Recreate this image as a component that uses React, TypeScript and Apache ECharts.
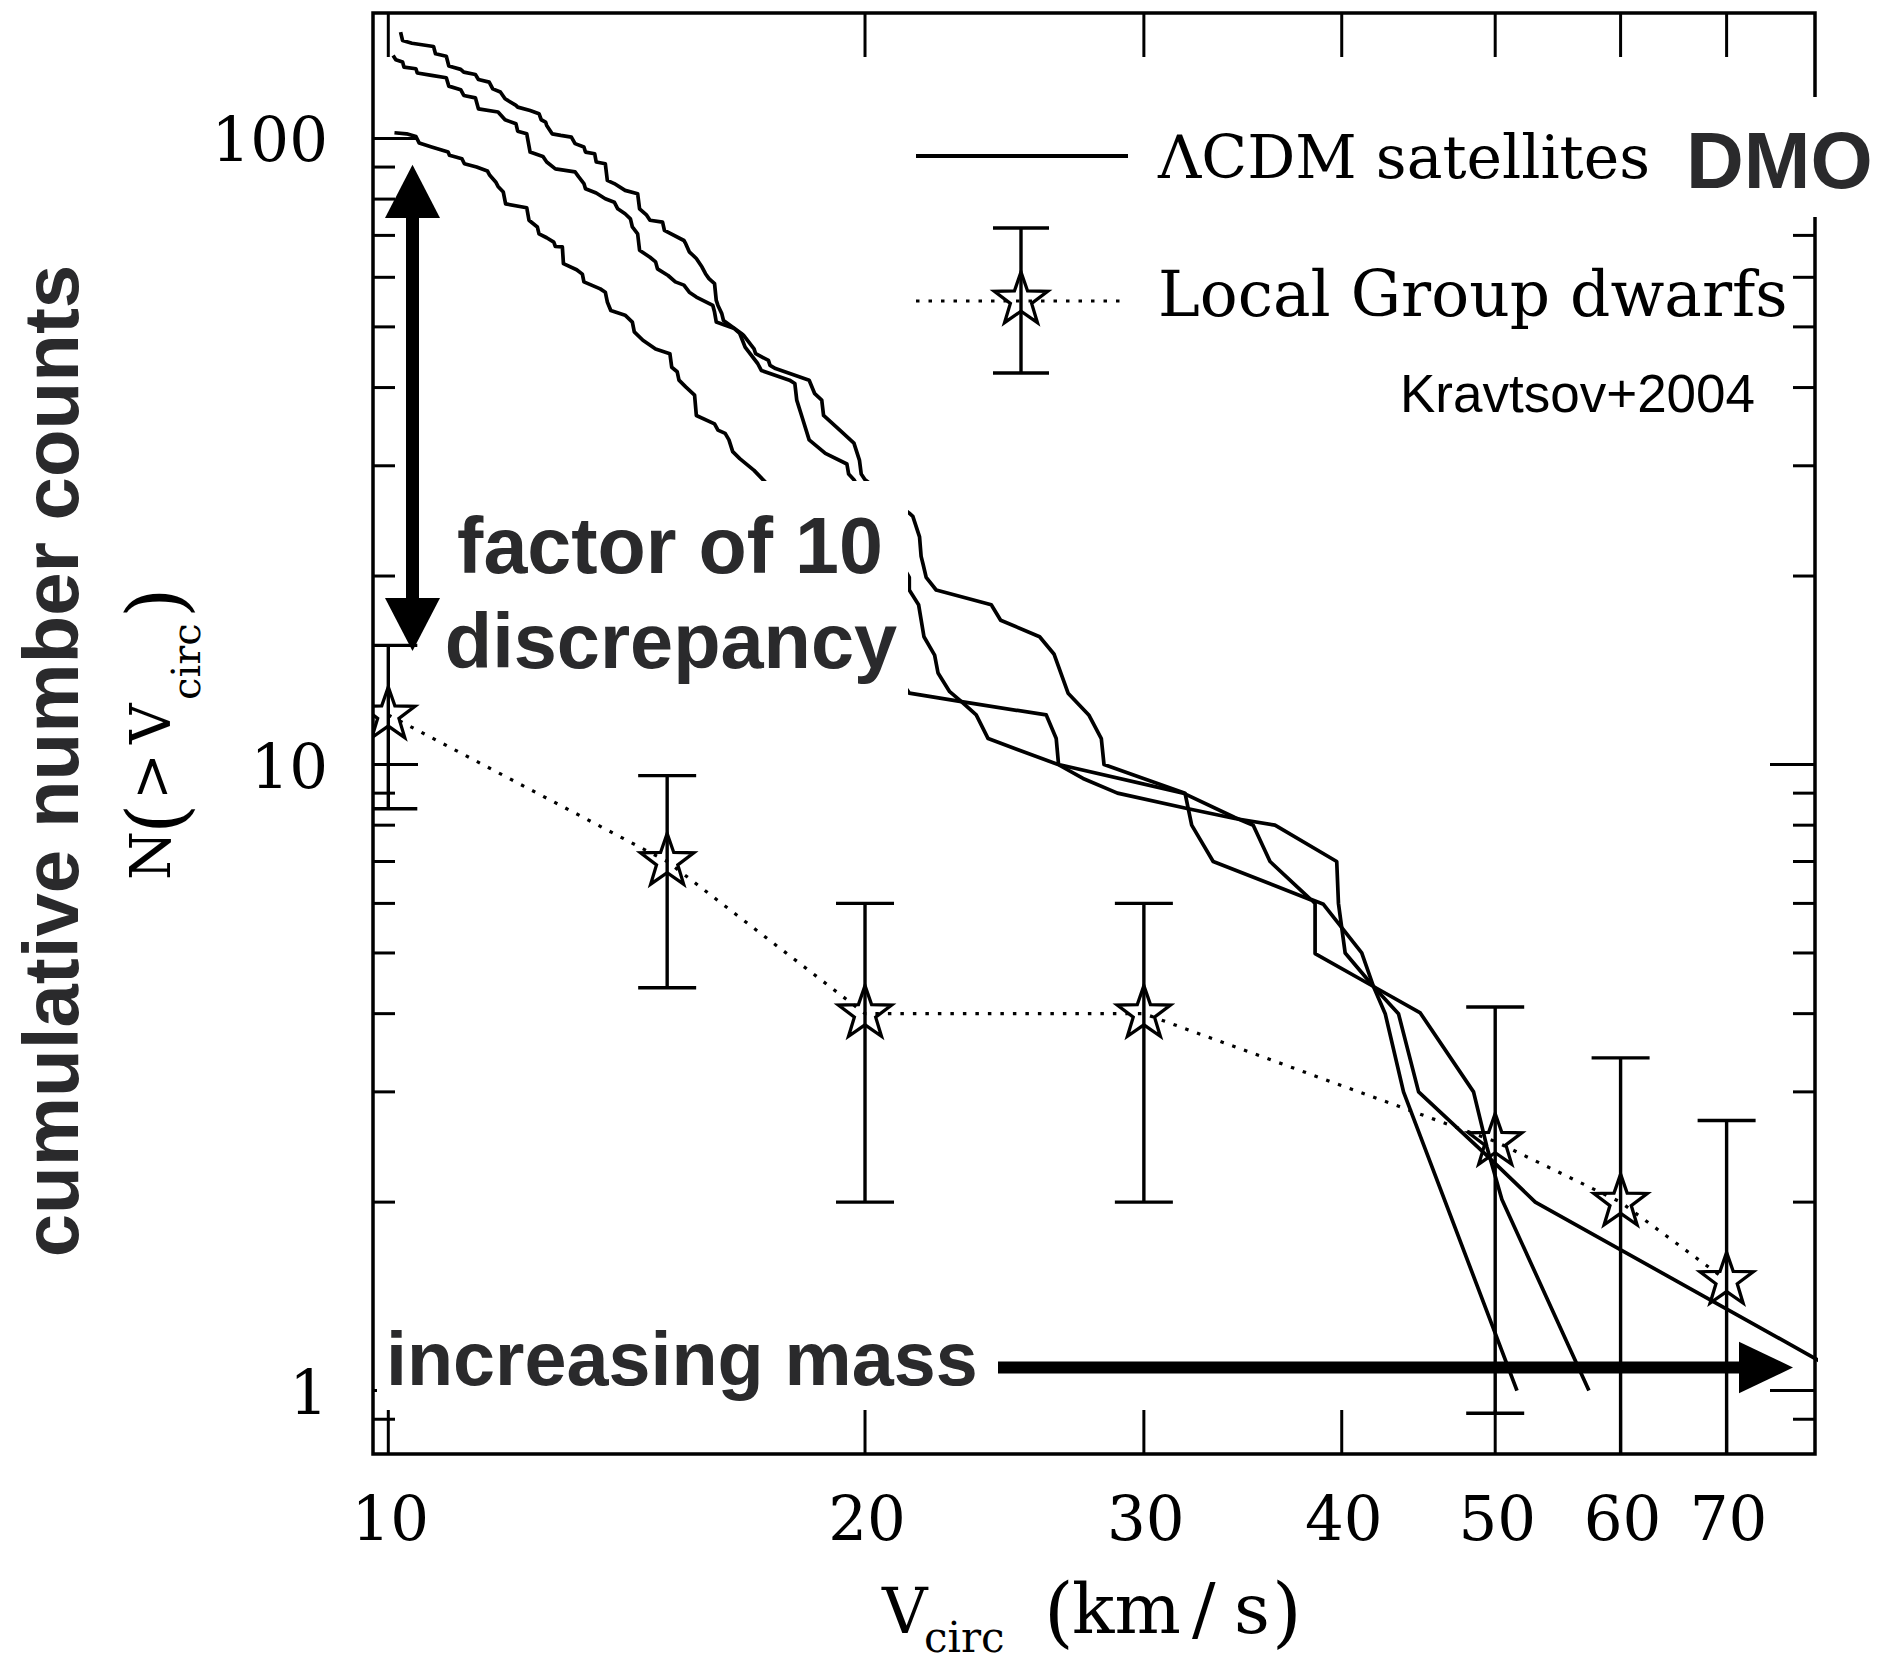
import React, { useEffect, useRef } from "react";
import * as echarts from "echarts";

// ---- axis ranges (log-log) ----
const X_MIN = 9.78;
const X_MAX = 79.6;
const Y_MIN = 0.792;
const Y_MAX = 158.6;

// ---- tick values and labels ----
const xTickValues = [10, 20, 30, 40, 50, 60, 70];
const xTickLabels = ["10", "20", "30", "40", "50", "60", "70"];
const yMajorTicks = [1, 10, 100];
const yTickLabels = ["1", "10", "100"];
const yMinorTicks = [0.9, 2, 3, 4, 5, 6, 7, 8, 9, 20, 30, 40, 50, 60, 70, 80, 90];

// ---- Local Group dwarfs: cumulative counts with error bars ----
const dwarfV = [10, 15, 20, 30, 50, 60, 70];
const dwarfN = [12, 7, 4, 4, 2.5, 2, 1.5];
const dwarfUpper = [15.5, 9.6, 6, 6, 4.1, 3.4, 2.7];
const dwarfLower = [8.5, 4.4, 2, 2, 0.92, 0.6, 0.3];

// ---- LCDM satellite cumulative counts, three host haloes: [Vcirc, N(>Vcirc)] ----
const satelliteA = [
  [10.18, 147.8], [10.21, 143.3], [10.35, 141.9], [10.68, 140.2], [10.71, 136.5], [10.88, 135.3],
  [10.92, 130.5], [11.11, 128.9], [11.16, 127.6], [11.35, 126.5], [11.4, 124.2], [11.58, 123.0],
  [11.64, 120.0], [11.77, 118.6], [11.85, 115.7], [12.04, 112.9], [12.07, 112.2], [12.29, 110.8],
  [12.45, 109.5], [12.49, 107.1], [12.57, 106.2], [12.59, 104.9], [12.69, 101.7], [12.85, 101.1],
  [13.05, 100.5], [13.12, 98.1], [13.29, 96.9], [13.32, 95.1], [13.5, 94.5], [13.53, 91.7],
  [13.71, 91.1], [13.75, 85.7], [13.89, 84.7], [14.11, 82.6], [14.37, 81.6], [14.41, 77.2],
  [14.56, 75.4], [14.63, 74.0], [14.9, 73.5], [14.94, 71.3], [15.37, 68.7], [15.41, 67.9],
  [15.49, 65.9], [15.65, 64.3], [15.78, 62.3], [15.86, 60.8], [15.94, 59.7], [16.07, 58.6],
  [16.11, 55.1], [16.15, 54.1], [16.24, 52.5], [16.28, 51.2], [16.71, 48.8], [16.76, 48.5],
  [17.02, 46.1], [17.06, 45.3], [17.38, 44.2], [17.42, 43.4], [17.56, 42.9], [18.44, 41.1],
  [18.59, 39.1], [18.78, 38.2], [18.83, 36.1], [19.28, 34.2], [19.68, 32.6], [19.84, 30.6],
  [19.89, 29.1], [20.0, 28.5],
  [21.33, 25.2], [21.44, 24.9], [21.65, 23.1], [21.7, 21.5], [21.76, 20.9], [21.86, 19.9],
  [22.18, 19.0], [24.03, 18.0], [24.36, 17.0], [25.78, 16.0], [26.33, 15.0], [26.87, 13.0],
  [27.69, 12.0], [28.2, 11.0], [28.31, 10.0], [31.85, 9.0], [32.16, 8.0], [33.18, 7.0],
  [38.3, 6.07], [38.48, 6.0], [38.48, 4.99], [41.89, 4.42], [44.84, 4.01], [48.45, 3.0],
  [49.4, 2.45], [50.49, 2.02], [57.3, 1.0],
];

const satelliteB = [
  [10.07, 135.7], [10.11, 133.6], [10.21, 132.4], [10.23, 130.0], [10.41, 129.2], [10.43, 127.2],
  [10.65, 126.1], [10.88, 125.0], [10.92, 121.2], [11.11, 119.6], [11.16, 117.1], [11.35, 116.1],
  [11.4, 111.5], [11.73, 110.2], [11.85, 107.1], [12.04, 105.5], [12.07, 102.7], [12.23, 101.7],
  [12.29, 95.1], [12.52, 93.6], [12.59, 91.7], [12.75, 89.4], [13.12, 88.4], [13.19, 86.8],
  [13.29, 84.7], [13.32, 83.1], [13.53, 81.8], [13.71, 80.1], [13.89, 79.1], [13.96, 77.2],
  [14.11, 75.8], [14.22, 74.4], [14.26, 72.2], [14.37, 70.4], [14.41, 66.3], [14.63, 64.6],
  [14.75, 63.5], [14.79, 61.9], [15.02, 60.4], [15.18, 59.0], [15.37, 58.3], [15.49, 56.8],
  [15.65, 55.8], [16.03, 54.1], [16.07, 52.8], [16.11, 50.9], [16.54, 49.7], [16.67, 48.8],
  [16.8, 46.4], [17.11, 43.7], [17.2, 42.6], [17.92, 41.1], [18.06, 40.6], [18.11, 38.2],
  [18.25, 35.9], [18.44, 33.0], [18.88, 31.4], [19.48, 30.2], [19.53, 29.1], [19.68, 28.5],
  [21.33, 19.9], [21.33, 19.0], [21.62, 18.0], [21.79, 16.0], [22.13, 14.95], [22.24, 14.0],
  [22.62, 13.07], [23.01, 12.6], [23.51, 12.0], [23.92, 11.0], [26.48, 10.0], [27.46, 9.5],
  [28.87, 9.0], [32.0, 8.5], [34.24, 8.2], [36.3, 8.0], [39.71, 7.0], [39.81, 6.0],
  [40.2, 5.0], [41.89, 4.42], [42.61, 4.0], [43.76, 3.0], [51.61, 1.0],
];

const satelliteC = [
  [10.09, 102.1], [10.27, 101.7], [10.41, 100.7], [10.46, 98.3], [10.65, 96.9], [10.91, 95.1],
  [10.93, 94.0], [11.13, 92.8], [11.17, 91.1], [11.37, 90.0], [11.55, 88.7], [11.59, 87.3],
  [11.69, 85.2], [11.73, 83.8], [11.82, 82.1], [11.86, 78.6], [12.23, 77.5], [12.27, 74.0],
  [12.42, 72.2], [12.45, 70.4], [12.59, 69.4], [12.72, 68.3], [12.75, 67.2], [12.88, 67.1],
  [12.9, 63.1], [13.15, 61.7], [13.26, 60.7], [13.29, 59.0], [13.61, 57.5], [13.71, 56.8],
  [13.75, 54.8], [13.82, 53.1], [14.11, 52.2], [14.26, 50.9], [14.3, 49.1], [14.48, 47.6],
  [14.75, 46.1], [15.06, 45.3], [15.1, 43.1], [15.22, 42.4], [15.26, 41.1], [15.41, 40.1],
  [15.61, 38.9], [15.65, 36.1], [16.07, 35.0], [16.15, 34.2], [16.32, 33.8], [16.41, 33.0],
  [16.5, 31.6], [16.67, 30.8], [17.02, 29.5], [17.29, 28.3],
  [21.33, 13.0], [23.01, 12.6], [26.03, 12.0], [26.41, 11.0], [26.5, 10.0], [31.77, 9.0],
  [34.24, 8.23], [35.17, 8.0], [36.04, 7.0], [38.2, 6.1], [38.95, 5.98], [41.18, 5.0],
  [41.89, 4.42], [43.44, 4.0], [44.73, 3.0], [49.52, 2.36], [53.0, 2.0], [79.89, 1.12],
  [86.0, 1.0],
];

// ---- styling constants ----
const SERIF = "'DejaVu Serif', serif";
const SANS = "'Liberation Sans', Arial, sans-serif";
const DARK = "#2a2a2c";
const INK = "#000";
const STAR_R = 28;
const STAR_INNER = 0.4;
const CAP_HALF = 29;
const MAJOR_LEN = 45;
const MINOR_LEN = 22;
const XTICK_LEN = 44;
const TICK_FONT = 61;
const CURVE_W = 3.7;
const BAR_W = 3.4;
const TICK_W = 3;

function starPoints(cx: number, cy: number, R: number, ratio: number) {
  const pts: number[][] = [];
  for (let k = 0; k < 10; k++) {
    const r = k % 2 === 0 ? R : R * ratio;
    const a = -Math.PI / 2 + (k * Math.PI) / 5;
    pts.push([cx + r * Math.cos(a), cy + r * Math.sin(a)]);
  }
  return pts;
}

function txt(
  x: number,
  y: number,
  text: string,
  size: number,
  family: string,
  opts: any = {}
) {
  const align = opts.align || "left";
  return {
    type: "text",
    x,
    y,
    z: opts.z ?? 101,
    silent: true,
    style: {
      text,
      fontSize: size,
      fontFamily: family,
      fontWeight: opts.weight || "normal",
      fill: opts.fill || INK,
      align,
      textAlign: align,
      verticalAlign: "middle",
      textVerticalAlign: "middle",
    },
  };
}

function buildOption() {
  const lineSeries = [satelliteA, satelliteB, satelliteC].map((d, i) => ({
    name: "LCDM satellites " + (i + 1),
    type: "line",
    data: d,
    showSymbol: false,
    symbol: "none",
    clip: true,
    z: 3,
    lineStyle: { color: INK, width: CURVE_W, join: "round" },
  }));

  const legendStar = starPoints(1021, 300, STAR_R, STAR_INNER);

  return {
    animation: false,
    backgroundColor: "#fff",
    grid: {
      left: 373,
      top: 13,
      width: 1442,
      height: 1441,
      show: true,
      borderColor: INK,
      borderWidth: 3.5,
      backgroundColor: "transparent",
    },
    xAxis: {
      type: "log",
      logBase: 10,
      min: X_MIN,
      max: X_MAX,
      axisLine: { show: false },
      axisTick: { show: false },
      axisLabel: { show: false },
      splitLine: { show: false },
    },
    yAxis: {
      type: "log",
      logBase: 10,
      min: Y_MIN,
      max: Y_MAX,
      axisLine: { show: false },
      axisTick: { show: false },
      axisLabel: { show: false },
      splitLine: { show: false },
    },
    series: [
      ...lineSeries,
      // dotted connector of the dwarf counts
      {
        name: "Local Group dwarfs line",
        type: "line",
        data: dwarfV.map((v, i) => [v, dwarfN[i]]),
        symbol: "none",
        showSymbol: false,
        clip: true,
        z: 4,
        lineStyle: { color: INK, width: 3.2, type: [3.5, 9] },
      },
      // error bars and open stars
      {
        name: "Local Group dwarfs",
        type: "custom",
        clip: true,
        z: 5,
        encode: { x: 0, y: 1 },
        data: dwarfV.map((v, i) => [v, dwarfN[i], dwarfUpper[i], dwarfLower[i]]),
        renderItem: (params: any, api: any) => {
          const v = api.value(0);
          const c = api.coord([v, api.value(1)]);
          const top = api.coord([v, api.value(2)]);
          const bot = api.coord([v, api.value(3)]);
          const st = { stroke: INK, lineWidth: BAR_W };
          return {
            type: "group",
            children: [
              { type: "line", shape: { x1: c[0], y1: top[1], x2: c[0], y2: bot[1] }, style: st },
              { type: "line", shape: { x1: c[0] - CAP_HALF, y1: top[1], x2: c[0] + CAP_HALF, y2: top[1] }, style: st },
              { type: "line", shape: { x1: c[0] - CAP_HALF, y1: bot[1], x2: c[0] + CAP_HALF, y2: bot[1] }, style: st },
              {
                type: "polygon",
                shape: { points: starPoints(c[0], c[1], STAR_R, STAR_INNER) },
                style: { fill: "none", stroke: INK, lineWidth: 3.3 },
              },
            ],
          };
        },
      },
      // x ticks (bottom and top) with labels
      {
        name: "xticks",
        type: "custom",
        clip: false,
        silent: true,
        z: 6,
        encode: { x: 0, y: 1 },
        data: xTickValues.map((v, i) => [v, Y_MIN, i]),
        renderItem: (params: any, api: any) => {
          const v = api.value(0);
          const i = api.value(2);
          const b = api.coord([v, Y_MIN]);
          const t = api.coord([v, Y_MAX]);
          const st = { stroke: INK, lineWidth: TICK_W };
          return {
            type: "group",
            children: [
              { type: "line", shape: { x1: b[0], y1: b[1], x2: b[0], y2: b[1] - XTICK_LEN }, style: st },
              { type: "line", shape: { x1: t[0], y1: t[1], x2: t[0], y2: t[1] + XTICK_LEN }, style: st },
              {
                type: "text",
                style: {
                  text: xTickLabels[i],
                  x: b[0] + 2,
                  y: b[1] + 64,
                  fontSize: TICK_FONT,
                  fontFamily: SERIF,
                  fill: INK,
                  align: "center",
                  verticalAlign: "middle",
                },
              },
            ],
          };
        },
      },
      // y major ticks (left and right) with labels
      {
        name: "ymajor",
        type: "custom",
        clip: false,
        silent: true,
        z: 6,
        encode: { x: 0, y: 1 },
        data: yMajorTicks.map((v, i) => [X_MIN, v, i]),
        renderItem: (params: any, api: any) => {
          const v = api.value(1);
          const i = api.value(2);
          const l = api.coord([X_MIN, v]);
          const r = api.coord([X_MAX, v]);
          const st = { stroke: INK, lineWidth: TICK_W };
          return {
            type: "group",
            children: [
              { type: "line", shape: { x1: l[0], y1: l[1], x2: l[0] + MAJOR_LEN, y2: l[1] }, style: st },
              { type: "line", shape: { x1: r[0], y1: r[1], x2: r[0] - MAJOR_LEN, y2: r[1] }, style: st },
              {
                type: "text",
                style: {
                  text: yTickLabels[i],
                  x: l[0] - 45,
                  y: l[1] + 1.5,
                  fontSize: TICK_FONT,
                  fontFamily: SERIF,
                  fill: INK,
                  align: "right",
                  verticalAlign: "middle",
                },
              },
            ],
          };
        },
      },
      // y minor ticks (left and right)
      {
        name: "yminor",
        type: "custom",
        clip: false,
        silent: true,
        z: 6,
        encode: { x: 0, y: 1 },
        data: yMinorTicks.map((v) => [X_MIN, v]),
        renderItem: (params: any, api: any) => {
          const v = api.value(1);
          const l = api.coord([X_MIN, v]);
          const r = api.coord([X_MAX, v]);
          const st = { stroke: INK, lineWidth: TICK_W };
          return {
            type: "group",
            children: [
              { type: "line", shape: { x1: l[0], y1: l[1], x2: l[0] + MINOR_LEN, y2: l[1] }, style: st },
              { type: "line", shape: { x1: r[0], y1: r[1], x2: r[0] - MINOR_LEN, y2: r[1] }, style: st },
            ],
          };
        },
      },
    ],
    graphic: {
      elements: [
        // white panels under the annotations
        { type: "rect", z: 100, silent: true, shape: { x: 440, y: 481, width: 468, height: 214 }, style: { fill: "#fff" } },
        { type: "rect", z: 100, silent: true, shape: { x: 377, y: 1302, width: 619, height: 106 }, style: { fill: "#fff" } },
        { type: "rect", z: 100, silent: true, shape: { x: 1678, y: 97, width: 200, height: 120 }, style: { fill: "#fff" } },

        // double-headed arrow
        { type: "rect", z: 102, silent: true, shape: { x: 406, y: 212, width: 13, height: 392 }, style: { fill: INK } },
        { type: "polygon", z: 102, silent: true, shape: { points: [[412.5, 164.7], [385, 218], [440, 218]] }, style: { fill: INK } },
        { type: "polygon", z: 102, silent: true, shape: { points: [[412.5, 651], [385, 598], [440, 598]] }, style: { fill: INK } },

        // increasing-mass arrow
        { type: "rect", z: 102, silent: true, shape: { x: 998, y: 1361.5, width: 748, height: 12 }, style: { fill: INK } },
        { type: "polygon", z: 102, silent: true, shape: { points: [[1793, 1367.5], [1739, 1341.7], [1739, 1393.3]] }, style: { fill: INK } },

        // annotation texts (drawn above arrows and panels)
        txt(670, 545, "factor of 10", 79, SANS, { weight: "bold", fill: DARK, align: "center", z: 103 }),
        txt(671, 641, "discrepancy", 77.5, SANS, { weight: "bold", fill: DARK, align: "center", z: 103 }),
        txt(386, 1359, "increasing mass", 75.5, SANS, { weight: "bold", fill: DARK, z: 103 }),
        txt(1686, 160.6, "DMO", 80, SANS, { weight: "bold", fill: DARK, z: 103 }),
        txt(1400, 393, "Kravtsov+2004", 53, SANS, { z: 103 }),
        {
          ...txt(51, 761, "cumulative number counts", 78, SANS, { weight: "bold", fill: DARK, align: "center", z: 103 }),
          rotation: Math.PI / 2,
        },

        // legend: LCDM satellites
        { type: "line", z: 101, silent: true, shape: { x1: 916, y1: 156, x2: 1128, y2: 156 }, style: { stroke: INK, lineWidth: 3.8 } },
        txt(1158, 157, "\u039BCDM satellites", 60, SERIF),

        // legend: Local Group dwarfs
        { type: "line", z: 101, silent: true, shape: { x1: 916, y1: 301, x2: 1128, y2: 301 }, style: { stroke: INK, lineWidth: 3.2, lineDash: [3.5, 9] } },
        { type: "line", z: 101, silent: true, shape: { x1: 1021, y1: 228, x2: 1021, y2: 373 }, style: { stroke: INK, lineWidth: BAR_W } },
        { type: "line", z: 101, silent: true, shape: { x1: 993, y1: 228, x2: 1049, y2: 228 }, style: { stroke: INK, lineWidth: BAR_W } },
        { type: "line", z: 101, silent: true, shape: { x1: 993, y1: 373, x2: 1049, y2: 373 }, style: { stroke: INK, lineWidth: BAR_W } },
        { type: "polygon", z: 101, silent: true, shape: { points: legendStar }, style: { fill: "none", stroke: INK, lineWidth: 3.3 } },
        txt(1158, 294, "Local Group dwarfs", 63, SERIF),

        // x-axis title: V_circ (km/s)
        txt(882, 1611, "V", 63, SERIF),
        txt(924, 1637, "circ", 42, SERIF),
        txt(1044, 1611.6, "(", 76, SERIF),
        txt(1072, 1609, "km", 70, SERIF),
        txt(1192, 1609, "/", 70, SERIF),
        txt(1234, 1609, "s", 70, SERIF),
        txt(1272, 1611.6, ")", 76, SERIF),

        // y-axis title: N(>V_circ), rotated
        {
          type: "group",
          x: 170,
          y: 880,
          rotation: Math.PI / 2,
          z: 101,
          silent: true,
          children: [
            txt(0, -19.4, "N", 56, SERIF),
            txt(46, -14.4, "(", 78, SERIF),
            txt(80, -19.4, ">", 56, SERIF),
            txt(136, -19.4, "V", 56, SERIF),
            txt(180, 16.2, "circ", 40, SERIF),
            txt(262, -14.4, ")", 78, SERIF),
          ],
        },
      ],
    },
  };
}

export default function App() {
  const ref = useRef<HTMLDivElement>(null);
  useEffect(() => {
    if (!ref.current) return;
    const chart = echarts.init(ref.current, undefined, { renderer: "svg" });
    chart.setOption(buildOption() as any);
    return () => chart.dispose();
  }, []);
  return (
    <div
      ref={ref}
      style={{ position: "fixed", left: 0, top: 0, width: 1878, height: 1656, background: "#fff" }}
    />
  );
}
